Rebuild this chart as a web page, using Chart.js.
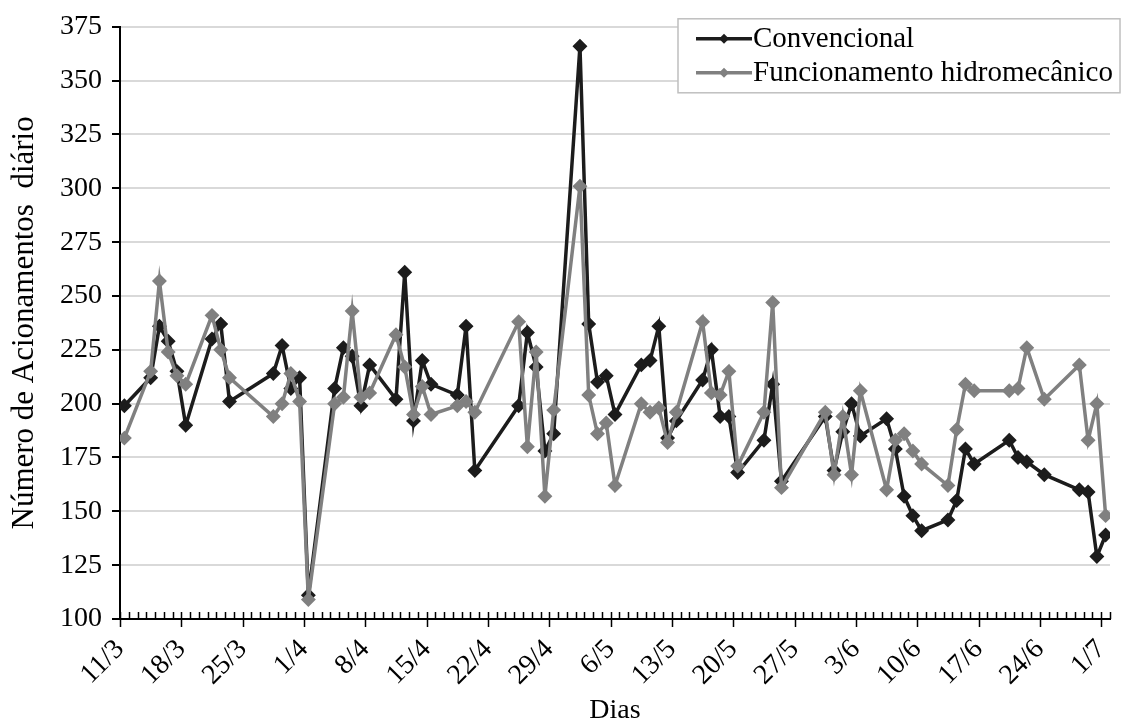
<!DOCTYPE html>
<html>
<head>
<meta charset="utf-8">
<script src="https://cdn.jsdelivr.net/npm/chart.js@4.4.0/dist/chart.umd.min.js"></script>
<style>
  html, body { margin: 0; padding: 0; background: #fff; }
</style>
</head>
<body>
<canvas id="acChart" width="1126" height="727"></canvas>
<script>
// dias contados a partir de 11/3
var dias = [0,3,4,5,6,7,10,11,12,17,18,19,20,21,24,25,26,27,28,31,32,33,34,35,38,39,40,
  45,46,47,48,49,52,53,54,55,56,59,60,61,62,63,66,67,68,69,70,73,74,75,80,81,82,83,84,
  87,88,89,90,91,94,95,96,97,101,102,103,105,109,110,111,112];

var convencional = [199,212,236,229,215,190, 230,237,201, 214,227,207,212,111,
  207,226,222,199,218, 202,261,192,220,209, 204,236,169, 199,233,217,178,186,
  366,237,210,213,195, 218,220,236,184,192, 211,225,194,194,168, 183,209,164,
  194,169,187,200,185, 193,179,157,148,141, 146,155,179,172, 183,175,173, 167,
  160,159,129,139];

var hidromecanico = [184,215,257,224,213,209, 241,225,212, 194,200,214,201,109,
  200,203,243,203,205, 232,217,195,208,195, 199,201,196, 238,180,224,157,197,
  301,204,186,191,162, 200,196,198,182,196, 238,205,204,215,171, 196,247,161,
  196,167,194,167,206, 160,183,186,178,172, 162,188,209,206, 206,207,226, 202,
  218,183,200,148];

var tickLabels = ['11/3','18/3','25/3','1/4','8/4','15/4','22/4','29/4','6/5',
  '13/5','20/5','27/5','3/6','10/6','17/6','24/6','1/7'];

var serif = "'Liberation Serif', 'Times New Roman', serif";

function pontos(vals) {
  // each day sits in the middle of its slot, between two day ticks
  return dias.map(function (d, i) { return {x: d + 0.5, y: vals[i]}; });
}

// small tick marks for every day, long ones every week
var dayTicks = {
  id: 'dayTicks',
  afterDraw: function (chart) {
    var ctx = chart.ctx, xs = chart.scales.x, yb = chart.chartArea.bottom;
    ctx.save();
    ctx.strokeStyle = '#000';
    ctx.lineWidth = 1.5;
    ctx.beginPath();
    for (var d = xs.min; d <= xs.max; d++) {
      var px = Math.round(xs.getPixelForValue(d)) + 0.5;
      ctx.moveTo(px, yb - 7);
      ctx.lineTo(px, d % 7 === 0 ? yb + 8 : yb);
    }
    ctx.stroke();
    ctx.restore();
  }
};

// boxed legend inside the plot, line + diamond like the original
var legendBox = {
  id: 'legendBox',
  afterDraw: function (chart) {
    var ctx = chart.ctx, area = chart.chartArea;
    var x0 = area.right - 432, y0 = area.top - 8, w = 442, h = 74;
    ctx.save();
    ctx.fillStyle = '#fff';
    ctx.fillRect(x0, y0, w, h);
    ctx.strokeStyle = '#bfbfbf';
    ctx.lineWidth = 1.5;
    ctx.strokeRect(x0, y0, w, h);
    chart.data.datasets.forEach(function (ds, i) {
      var ly = y0 + 20 + i * 34;
      ctx.strokeStyle = ds.borderColor;
      ctx.lineWidth = 3.5;
      ctx.beginPath();
      ctx.moveTo(x0 + 18, ly);
      ctx.lineTo(x0 + 74, ly);
      ctx.stroke();
      ctx.fillStyle = ds.borderColor;
      ctx.beginPath();
      ctx.moveTo(x0 + 46, ly - 5);
      ctx.lineTo(x0 + 51, ly);
      ctx.lineTo(x0 + 46, ly + 5);
      ctx.lineTo(x0 + 41, ly);
      ctx.closePath();
      ctx.fill();
      ctx.fillStyle = '#000';
      ctx.font = '29px ' + serif;
      ctx.textBaseline = 'middle';
      ctx.fillText(ds.label, x0 + 75, ly + 1);
    });
    ctx.restore();
  }
};

var ctx = document.getElementById('acChart').getContext('2d');
new Chart(ctx, {
  type: 'line',
  data: {
    datasets: [
      {
        label: 'Convencional',
        data: pontos(convencional),
        borderColor: '#1c1c1c',
        backgroundColor: '#1c1c1c',
        borderWidth: 3.5,
        pointStyle: 'rectRot',
        pointRadius: 5,
        order: 1
      },
      {
        label: 'Funcionamento hidromecânico',
        data: pontos(hidromecanico),
        borderColor: '#808080',
        backgroundColor: '#808080',
        borderWidth: 3.5,
        pointStyle: 'rectRot',
        pointRadius: 5,
        order: 0
      }
    ]
  },
  options: {
    responsive: false,
    animation: false,
    devicePixelRatio: 1,
    layout: {padding: {top: 25, right: 16, left: 0, bottom: 0}},
    plugins: {legend: {display: false}, tooltip: {enabled: false}},
    scales: {
      x: {
        type: 'linear',
        min: 0,
        max: 113,
        afterFit: function (s) { s.height = 108; s.paddingLeft = 0; s.paddingRight = 0; },
        grid: {display: false, drawTicks: false},
        border: {display: true, color: '#000', width: 2},
        ticks: {
          stepSize: 1,
          autoSkip: false,
          maxRotation: 45,
          minRotation: 45,
          padding: 14,
          color: '#000',
          font: {family: serif, size: 28},
          callback: function (v) { return v % 7 === 0 ? tickLabels[v / 7] : ''; }
        },
        title: {display: true, text: 'Dias', color: '#000', font: {family: serif, size: 28}, padding: 0}
      },
      y: {
        min: 100,
        max: 375,
        afterFit: function (s) { s.width = 120; },
        grid: {
          color: function (c) { return c.tick && c.tick.value === 100 ? 'rgba(0,0,0,0)' : '#d9d9d9'; },
          lineWidth: 2,
          tickLength: 8,
          tickColor: '#000',
          tickWidth: 2
        },
        border: {display: true, color: '#000', width: 2},
        ticks: {
          stepSize: 25,
          padding: 10,
          color: '#000',
          font: {family: serif, size: 28}
        },
        title: {display: true, text: 'Número de Acionamentos  diário', color: '#000', font: {family: serif, size: 31}, padding: {top: 6}}
      }
    }
  },
  plugins: [dayTicks, legendBox]
});
</script>
</body>
</html>
